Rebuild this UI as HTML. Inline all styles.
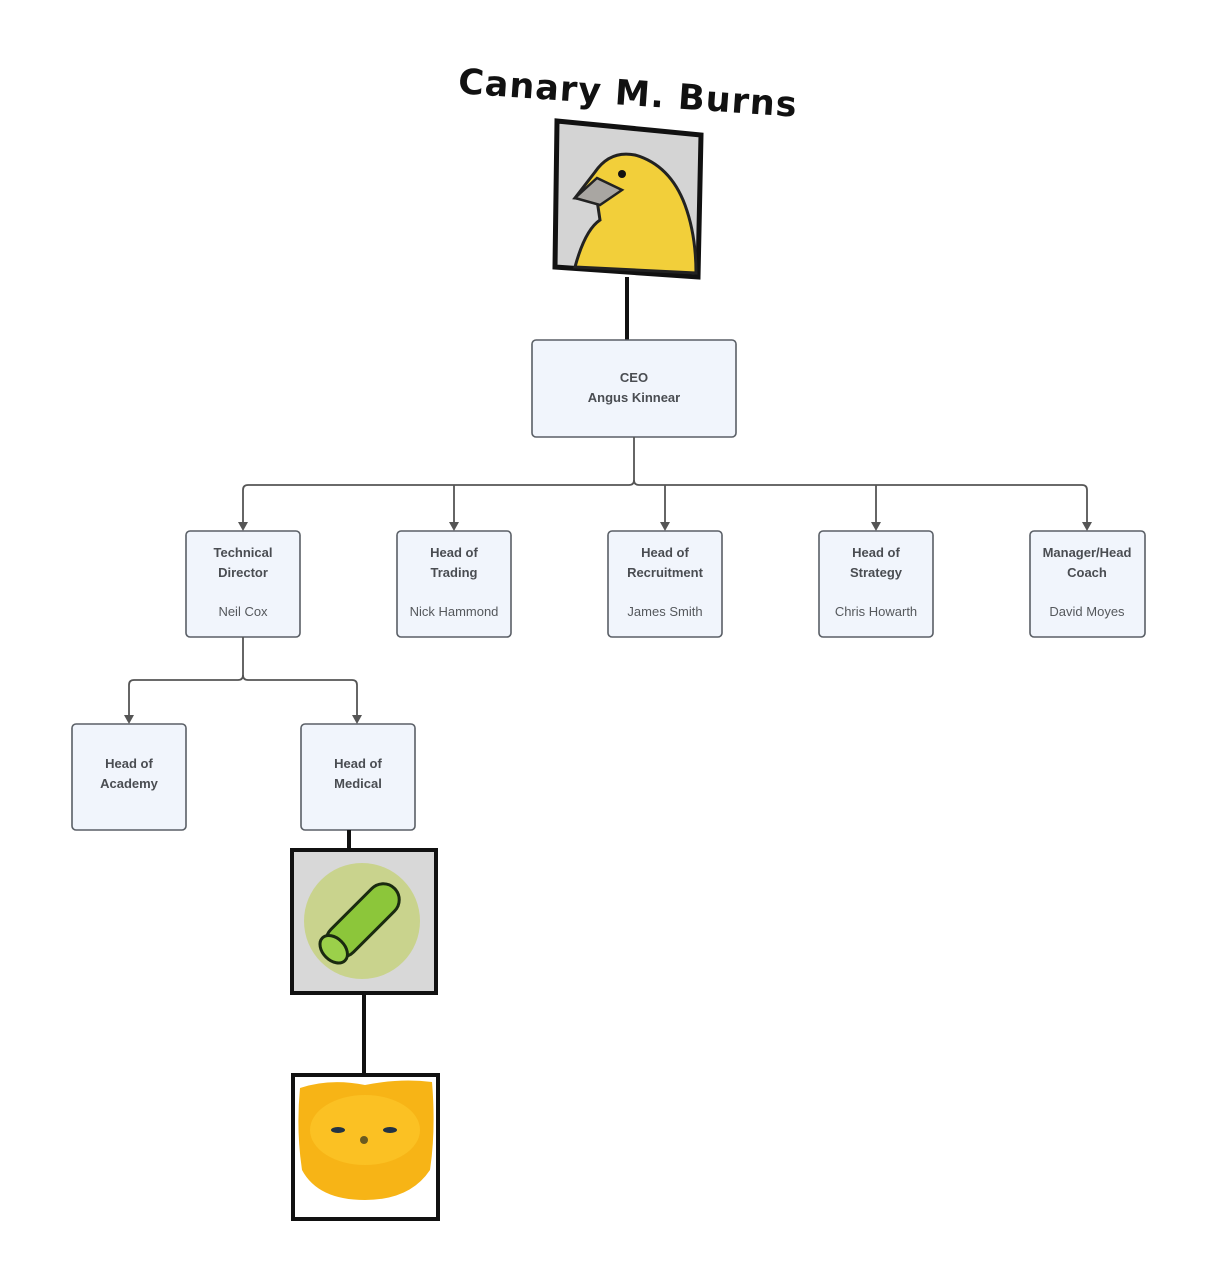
<!DOCTYPE html>
<html><head><meta charset="utf-8"><style>
html,body{margin:0;padding:0;background:#fff;}
svg text{font-family:"Liberation Sans",Arial,sans-serif;}
.b{fill:#f1f5fc;stroke:#5a5f66;stroke-width:1.6;}
.t{font-size:13px;font-weight:bold;fill:#4a4d52;text-anchor:middle;}
.n{font-size:13px;fill:#55585c;text-anchor:middle;}
.c{fill:none;stroke:#555;stroke-width:1.8;}
.a{fill:#555;}
</style></head><body>
<svg width="1208" height="1267" viewBox="0 0 1208 1267" xmlns="http://www.w3.org/2000/svg">
<text x="628" y="105" transform="rotate(4 628 93)" style="font-size:35px;font-weight:900;fill:#111;text-anchor:middle;font-family:'DejaVu Sans','Liberation Sans',sans-serif;letter-spacing:1px">Canary M. Burns</text>
<!-- canary -->
<polygon points="557,121 701,135 698,277 555,267" fill="#d4d4d4" stroke="#111" stroke-width="5"/>
<path d="M575,267 Q585,230 600,220 L597,200 L575,198 L595,172 Q610,150 635,155 Q670,165 685,205 Q696,235 696,273 Z" fill="#f2cf3a" stroke="#222" stroke-width="3"/>
<path d="M575,198 L597,178 L622,190 L600,205 Z" fill="#a9a6a2" stroke="#222" stroke-width="2.5"/>
<circle cx="622" cy="174" r="4" fill="#111"/>
<line x1="627" y1="277" x2="627" y2="340" stroke="#111" stroke-width="4"/>
<!-- CEO -->
<rect class="b" x="532" y="340" width="204" height="97" rx="4"/>
<text class="t" x="634" y="382">CEO</text>
<text class="t" x="634" y="402">Angus Kinnear</text>
<!-- bus -->
<path class="c" d="M634,437 V480 Q634,485 629,485 H248 Q243,485 243,490 V524"/>
<path class="c" d="M634,480 Q634,485 639,485 H1082 Q1087,485 1087,490 V524"/>
<path class="c" d="M454,485 V524 M665,485 V524 M876,485 V524"/>
<g class="a">
<polygon points="238,522 248,522 243,531"/>
<polygon points="449,522 459,522 454,531"/>
<polygon points="660,522 670,522 665,531"/>
<polygon points="871,522 881,522 876,531"/>
<polygon points="1082,522 1092,522 1087,531"/>
</g>
<rect class="b" x="186" y="531" width="114" height="106" rx="4"/>
<text class="t" x="243" y="557">Technical</text><text class="t" x="243" y="577">Director</text><text class="n" x="243" y="616">Neil Cox</text>
<rect class="b" x="397" y="531" width="114" height="106" rx="4"/>
<text class="t" x="454" y="557">Head of</text><text class="t" x="454" y="577">Trading</text><text class="n" x="454" y="616">Nick Hammond</text>
<rect class="b" x="608" y="531" width="114" height="106" rx="4"/>
<text class="t" x="665" y="557">Head of</text><text class="t" x="665" y="577">Recruitment</text><text class="n" x="665" y="616">James Smith</text>
<rect class="b" x="819" y="531" width="114" height="106" rx="4"/>
<text class="t" x="876" y="557">Head of</text><text class="t" x="876" y="577">Strategy</text><text class="n" x="876" y="616">Chris Howarth</text>
<rect class="b" x="1030" y="531" width="115" height="106" rx="4"/>
<text class="t" x="1087" y="557">Manager/Head</text><text class="t" x="1087" y="577">Coach</text><text class="n" x="1087" y="616">David Moyes</text>
<!-- TD children -->
<path class="c" d="M243,637 V675 Q243,680 238,680 H134 Q129,680 129,685 V717"/>
<path class="c" d="M243,675 Q243,680 248,680 H352 Q357,680 357,685 V717"/>
<polygon class="a" points="124,715 134,715 129,724"/>
<polygon class="a" points="352,715 362,715 357,724"/>
<rect class="b" x="72" y="724" width="114" height="106" rx="4"/>
<text class="t" x="129" y="768">Head of</text><text class="t" x="129" y="788">Academy</text>
<rect class="b" x="301" y="724" width="114" height="106" rx="4"/>
<text class="t" x="358" y="768">Head of</text><text class="t" x="358" y="788">Medical</text>
<line x1="349" y1="830" x2="349" y2="849" stroke="#111" stroke-width="4"/>
<!-- green -->
<rect x="292" y="850" width="144" height="143" fill="#d8d8d8" stroke="#111" stroke-width="4"/>
<circle cx="362" cy="921" r="58" fill="#c6d27a" opacity="0.8"/>
<g transform="rotate(-45 362 921)">
<rect x="318" y="905" width="90" height="32" rx="16" fill="#8cc63a" stroke="#1a2a10" stroke-width="3"/>
<ellipse cx="322" cy="921" rx="11" ry="16" fill="#9bd04a" stroke="#1a2a10" stroke-width="3"/>
</g>
<line x1="364" y1="993" x2="364" y2="1074" stroke="#111" stroke-width="4"/>
<!-- orange -->
<rect x="293" y="1075" width="145" height="144" fill="#fff" stroke="#111" stroke-width="4"/>
<path d="M300,1088 Q330,1078 365,1085 Q400,1078 432,1082 Q436,1130 430,1170 Q410,1200 365,1200 Q318,1200 302,1170 Q296,1130 300,1088 Z" fill="#f7b416"/>
<ellipse cx="365" cy="1130" rx="55" ry="35" fill="#fcc62a" opacity="0.7"/>
<ellipse cx="338" cy="1130" rx="7" ry="3" fill="#234"/>
<ellipse cx="390" cy="1130" rx="7" ry="3" fill="#234"/>
<circle cx="364" cy="1140" r="4" fill="#6a5a20"/>
</svg>
</body></html>
